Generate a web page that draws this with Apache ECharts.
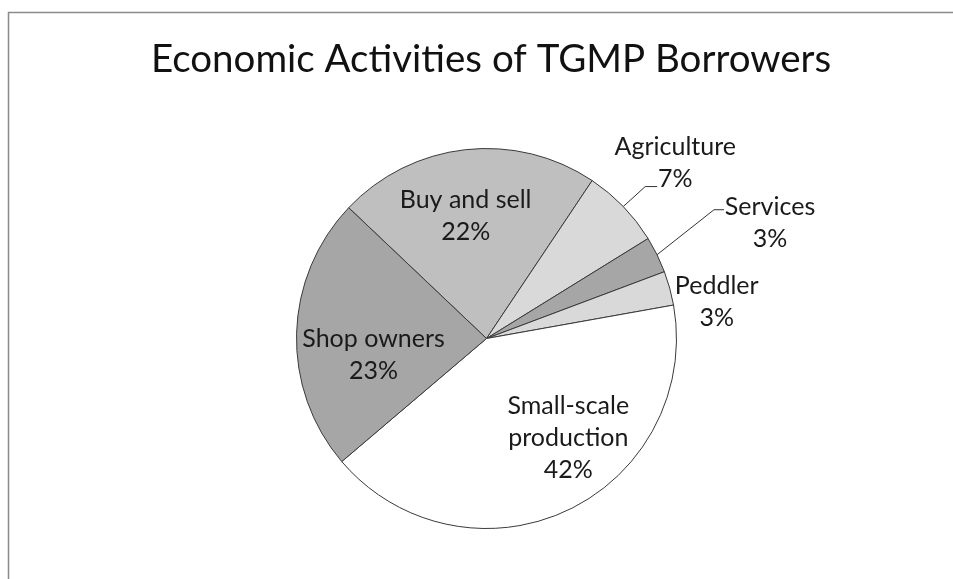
<!DOCTYPE html>
<html>
<head>
<meta charset="utf-8">
<script src="https://cdn.jsdelivr.net/npm/echarts@6/dist/echarts.min.js"></script>
<style>
  html, body { margin: 0; padding: 0; background: #fff; }
  #chart { width: 953px; height: 579px; }
</style>
</head>
<body>
<div id="chart"></div>
<script>
// ---- data ----
const titleText = 'Economic Activities of TGMP Borrowers';
const categories = ['Buy and sell', 'Agriculture', 'Services', 'Peddler', 'Small-scale\nproduction', 'Shop owners'];
const shares = [22.3, 6.8, 3.1, 2.9, 41.6, 23.3];

// ---- styles ----
const sliceColors = ['#bfbfbf', '#d9d9d9', '#a6a6a6', '#d9d9d9', '#ffffff', '#a6a6a6'];
const FONT = 'Lato';
// label placement tweaks (offsets relative to the library's own label / leader anchors)
const insideShift = { 0: [-10, -25], 4: [40, 11], 5: [-15, 19] };

const chart = echarts.init(document.getElementById('chart'), null, { renderer: 'canvas' });

const data = categories.map((c, i) => {
  const outside = (i >= 1 && i <= 3);
  return {
    name: c,
    value: shares[i],
    itemStyle: { color: sliceColors[i] },
    label: { position: outside ? 'outside' : 'inside' },
    labelLine: { show: outside, lineStyle: { opacity: i === 3 ? 0 : 1 } }
  };
});

chart.setOption({
  backgroundColor: '#ffffff',
  animation: false,
  title: {
    text: titleText,
    left: 486,
    top: 35,
    textAlign: 'center',
    textStyle: { fontFamily: FONT, fontSize: 38.5, fontWeight: 'normal', color: '#111' }
  },
  graphic: [{
    type: 'rect',
    shape: { x: 8.5, y: 12.5, width: 1200, height: 1200 },
    style: { fill: 'none', stroke: '#8a8a8a', lineWidth: 1.5 },
    silent: true
  }],
  series: [{
    type: 'pie',
    center: [486.5, 338.5],
    radius: 190,
    startAngle: 136.5,
    clockwise: true,
    avoidLabelOverlap: false,
    percentPrecision: 0,
    data: data,
    itemStyle: { borderColor: '#3a3a3a', borderWidth: 1 },
    label: {
      formatter: '{b}\n{d}%',
      fontFamily: FONT,
      fontSize: 25,
      lineHeight: 32,
      color: '#1a1a1a',
      align: 'center'
    },
    labelLine: { length: 28, length2: 11, lineStyle: { color: '#333', width: 1 } },
    labelLayout: function (p) {
      const i = p.dataIndex;
      if (insideShift[i]) {
        return { dx: insideShift[i][0], dy: insideShift[i][1] };
      }
      const a = p.labelLinePoints ? p.labelLinePoints[0] : [p.rect.x, p.rect.y];
      if (i === 1) { // Agriculture
        const p1 = [a[0] + 22, a[1] - 20];
        const p2 = [p1[0] + 12, p1[1]];
        return { x: p2[0] + 18, y: p2[1] - 24, align: 'center', verticalAlign: 'middle', labelLinePoints: [a, p1, p2] };
      }
      if (i === 2) { // Services
        const p1 = [a[0] + 57, a[1] - 45];
        const p2 = [p1[0] + 10, p1[1]];
        return { x: p2[0] + 46, y: p2[1] + 13, align: 'center', verticalAlign: 'middle', labelLinePoints: [a, p1, p2] };
      }
      // Peddler (no leader)
      return { x: a[0] + 47, y: a[1] + 14, align: 'center', verticalAlign: 'middle', labelLinePoints: [a, a, a] };
    }
  }]
});
</script>
</body>
</html>
